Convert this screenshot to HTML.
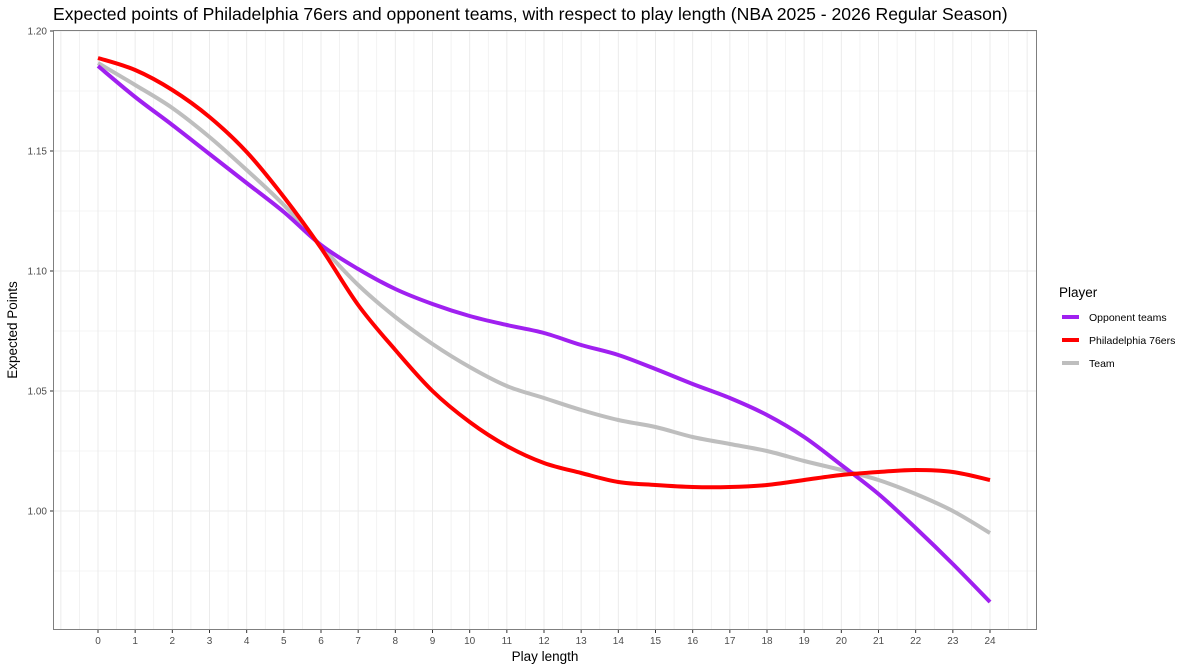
<!DOCTYPE html>
<html><head><meta charset="utf-8"><style>body{margin:0;background:#fff}svg{display:block;font-family:"Liberation Sans",sans-serif}</style></head><body>
<svg width="1200" height="670" xmlns="http://www.w3.org/2000/svg">
<text x="53" y="20" font-size="17.6" fill="#000">Expected points of Philadelphia 76ers and opponent teams, with respect to play length (NBA 2025 - 2026 Regular Season)</text>
<g id="grid"></g>
<rect x="53.5" y="30.5" width="983" height="599" fill="none" stroke="#7f7f7f" stroke-width="1"/>
<g id="ticks" font-size="10" fill="#4d4d4d"></g>
<g id="lines" fill="none" stroke-width="4" stroke-linecap="butt"></g>
<text x="545" y="661" font-size="13.5" text-anchor="middle">Play length</text>
<text transform="translate(17,330) rotate(-90)" font-size="13.5" text-anchor="middle">Expected Points</text>
<text x="1059" y="297" font-size="13.5">Player</text>
<line x1="1062" x2="1079" y1="317" y2="317" stroke="#a020f0" stroke-width="4"/>
<line x1="1062" x2="1079" y1="340" y2="340" stroke="#ff0000" stroke-width="4"/>
<line x1="1062" x2="1079" y1="363" y2="363" stroke="#bebebe" stroke-width="4"/>
<text x="1089" y="321" font-size="10.5">Opponent teams</text>
<text x="1089" y="344" font-size="10.5">Philadelphia 76ers</text>
<text x="1089" y="367" font-size="10.5">Team</text>
</svg>
<script>
const NS="http://www.w3.org/2000/svg";
const X=t=>98+t*37.167, Y=v=>31+(1.2-v)*2400;
function el(p,tag,a,txt){const e=document.createElementNS(NS,tag);for(const k in a)e.setAttribute(k,a[k]);if(txt!==undefined)e.textContent=txt;document.getElementById(p).appendChild(e);}
for(let t=-1;t<=25;t+=0.5){const x=X(t);if(x<54||x>1036)continue;el("grid","line",{x1:x,x2:x,y1:31,y2:629,stroke:"#ebebeb","stroke-width":Number.isInteger(t)?1:0.6});}
for(let v=0.95;v<=1.2001;v+=0.025){const y=Y(v);if(y<31||y>629)continue;el("grid","line",{x1:54,x2:1036,y1:y,y2:y,stroke:"#ebebeb","stroke-width":Math.round(v*1000)%50==0?1:0.6});}
for(let t=0;t<=24;t++){el("ticks","line",{x1:X(t),x2:X(t),y1:630,y2:633,stroke:"#333"});el("ticks","text",{x:X(t),y:644,"text-anchor":"middle"},t);}
[1.0,1.05,1.1,1.15,1.2].forEach(v=>{el("ticks","line",{x1:50,x2:53,y1:Y(v),y2:Y(v),stroke:"#333"});el("ticks","text",{x:47,y:Y(v)+3.5,"text-anchor":"end"},v.toFixed(2));});
const D={
"#bebebe":[63,85,108,137,170,205,246,285,317,344,367,386,398,410,420,427,437,444,451,461,470,480,494,511,533],
"#a020f0":[66,97,125,154,183,212,245,269,289,304,316,325,333,345,355,369,384,398,415,437,465,494,528,564,602],
"#ff0000":[58,70,90,117,152,197,248,305,350,391,422,446,463,473,482,485,487,487,485,480,475,472,470,472,480]};
for(const c in D){const p=D[c].map((y,i)=>[X(i),y]);let d=`M${p[0][0]},${p[0][1]}`;
for(let i=0;i<p.length-1;i++){const p0=p[i-1]||p[i],p1=p[i],p2=p[i+1],p3=p[i+2]||p2;
d+=` C${p1[0]+(p2[0]-p0[0])/6},${p1[1]+(p2[1]-p0[1])/6} ${p2[0]-(p3[0]-p1[0])/6},${p2[1]-(p3[1]-p1[1])/6} ${p2[0]},${p2[1]}`;}
el("lines","path",{d,stroke:c});}
</script>
</body></html>
